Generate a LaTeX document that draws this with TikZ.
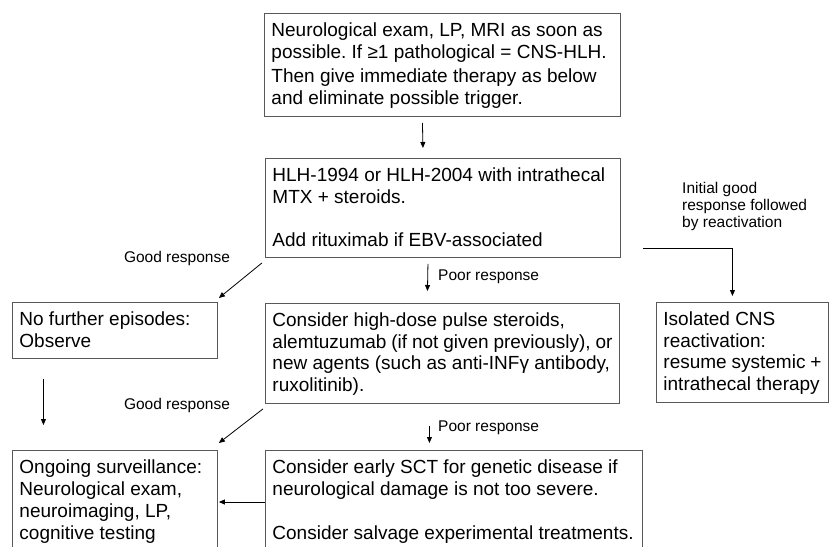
\documentclass[tikz,border=0pt]{standalone}
\usepackage{fontspec}
\setmainfont{Liberation Sans}
\frenchspacing
\usetikzlibrary{arrows.meta,calc}
\tikzset{
  box/.style={draw=black!65, line width=0.9pt, inner sep=0pt, anchor=north west,
    font=\fontsize{19pt}{21.5pt}\selectfont},
  arr/.style={line width=0.8pt, -{Triangle[length=6pt,width=5pt]}},
  lbl/.style={font=\fontsize{15.5pt}{17pt}\selectfont, inner sep=0pt, align=left},
}
\newcommand\boxtext[3]{\parbox[c][#2][t]{#1}{\raggedright\strut #3}}
\begin{document}
\begin{tikzpicture}
\useasboundingbox (0,0) rectangle (829pt,-546pt);
\clip (0,0) rectangle (829pt,-546pt);

\node[box, minimum width=356pt, minimum height=103pt] (b1) at (264pt,-13pt)
  {\boxtext{342pt}{87pt}{Neurological exam, LP, MRI as soon as\\ possible. If ≥1 pathological = CNS-HLH.\par\vspace{3pt}\strut Then give immediate therapy as below\\ and eliminate possible trigger.}};

\node[box, minimum width=355pt, minimum height=99pt] (b2) at (265pt,-158pt)
  {\boxtext{341pt}{83pt}{HLH-1994 or HLH-2004 with intrathecal\\ MTX + steroids.\\[21.5pt] Add rituximab if EBV-associated}};

\node[box, minimum width=354pt, minimum height=100pt] (b3) at (265pt,-303pt)
  {\boxtext{340pt}{84pt}{Consider high-dose pulse steroids,\\ alemtuzumab (if not given previously), or\\ new agents (such as anti-INFγ antibody,\\ ruxolitinib).}};

\node[box, minimum width=205pt, minimum height=56pt] (nf) at (12pt,-302pt)
  {\boxtext{191pt}{40pt}{No further episodes:\\ Observe}};

\node[box, minimum width=172pt, minimum height=100pt] (iso) at (656pt,-302pt)
  {\boxtext{158pt}{84pt}{Isolated CNS\\ reactivation:\\ resume systemic +\\ intrathecal therapy}};

\node[box, minimum width=205pt, minimum height=110pt, font=\fontsize{19pt}{22pt}\selectfont] (og) at (12pt,-450pt)
  {\boxtext{191pt}{94pt}{Ongoing surveillance:\\ Neurological exam,\\ neuroimaging, LP,\\ cognitive testing}};

\node[box, minimum width=377pt, minimum height=110pt, font=\fontsize{19pt}{22pt}\selectfont] (b5) at (265pt,-450pt)
  {\boxtext{363pt}{94pt}{Consider early SCT for genetic disease if\\ neurological damage is not too severe.\\[22pt] Consider salvage experimental treatments.}};

\node[lbl] (g1) at (177pt,-258pt) {Good response};
\node[lbl, anchor=west] (p1) at (438pt,-277pt) {Poor response};
\node[lbl, anchor=north west] (ig) at (682pt,-182pt) {Initial good\\response followed\\by reactivation};
\node[lbl] (g2) at (177pt,-405pt) {Good response};
\node[lbl, anchor=west] (p2) at (438pt,-428pt) {Poor response};

\draw[arr] ([xshift=-20pt,yshift=-6pt]b1.south) -- ([xshift=-20pt,yshift=10pt]b2.north);
\draw[arr] ([xshift=-15pt,yshift=-6pt]b2.south) -- ([xshift=-15pt,yshift=12pt]b3.north);
\draw[arr] ([shift={(-3pt,-5pt)}]b2.south west) -- ([shift={(1pt,4pt)}]nf.north east);
\draw[arr] ([shift={(22pt,10pt)}]b2.south east) -| ([xshift=-10pt,yshift=6pt]iso.north);
\draw[arr] ([xshift=-71.5pt,yshift=-20pt]nf.south) -- ([xshift=-71.5pt,yshift=25pt]og.north);
\draw[arr] ([shift={(-2pt,-5pt)}]b3.south west) -- ([shift={(1pt,7pt)}]og.north east);
\draw[arr] ([xshift=-13pt,yshift=-22pt]b3.south) coordinate (s5) -- ([yshift=7pt]b5.north -| s5);
\draw[arr] ([yshift=-52pt]b5.north west) -- ([shift={(1pt,-52pt)}]og.north east);
\end{tikzpicture}
\end{document}
